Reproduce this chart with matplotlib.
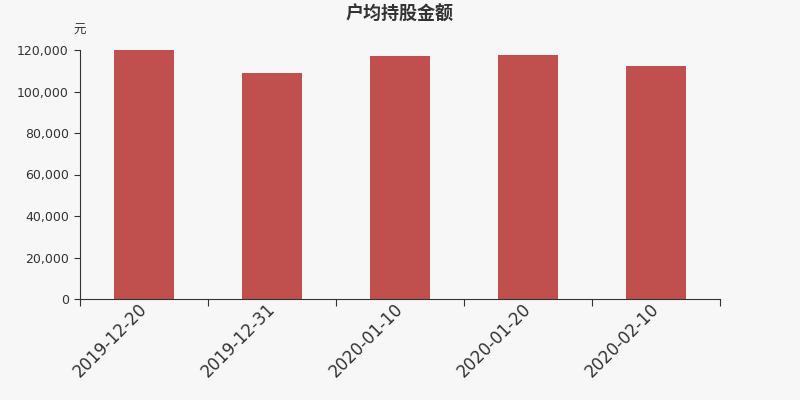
import matplotlib
matplotlib.use('Agg')
import matplotlib.pyplot as plt
from matplotlib.ticker import FuncFormatter
import numpy as np

plt.rcParams['font.family'] = ['DejaVu Sans', 'Noto Sans CJK SC']

dates = ['2019-12-20', '2019-12-31', '2020-01-10', '2020-01-20', '2020-02-10']
values = [119800, 108900, 117100, 117700, 112100]

bg = '#f7f7f7'
fig = plt.figure(figsize=(8, 4), dpi=100, facecolor=bg)
ax = fig.add_axes([0.1, 0.2525, 0.8, 0.6225], facecolor=bg)

x = np.arange(len(dates))
ax.bar(x, values, width=0.47, color='#c0504d')

ax.set_xlim(-0.5, len(dates) - 0.5)
ax.set_ylim(0, 120000)
ax.set_yticks(np.arange(0, 120001, 20000))
ax.yaxis.set_major_formatter(FuncFormatter(lambda v, p: f'{int(v):,}'))

ax.set_xticks(np.arange(-0.5, len(dates)), minor=False)
ax.set_xticklabels([])
ax.set_xticks(x, minor=True)
ax.set_xticklabels(dates, minor=True, rotation=45, ha='right', va='center',
                   rotation_mode='anchor', fontsize=12, color='#333333')
ax.tick_params(axis='x', which='minor', length=0, pad=5)
ax.tick_params(axis='x', which='major', length=5, color='#333333')
ax.tick_params(axis='y', length=4, labelsize=9, colors='#333333', pad=4)

for s in ['top', 'right']:
    ax.spines[s].set_visible(False)
for s in ['left', 'bottom']:
    ax.spines[s].set_color('#333333')

fig.text(0.5, 0.965, '户均持股金额', ha='center', va='center',
         fontsize=13, color='#333333', fontweight='bold',
         family=['Noto Sans CJK SC', 'DejaVu Sans'])
fig.text(0.099, 0.925, '元', ha='center', va='center', fontsize=9,
         color='#333333', family=['Noto Sans CJK SC', 'DejaVu Sans'])

fig.savefig('out.png', dpi=100, facecolor=bg)
